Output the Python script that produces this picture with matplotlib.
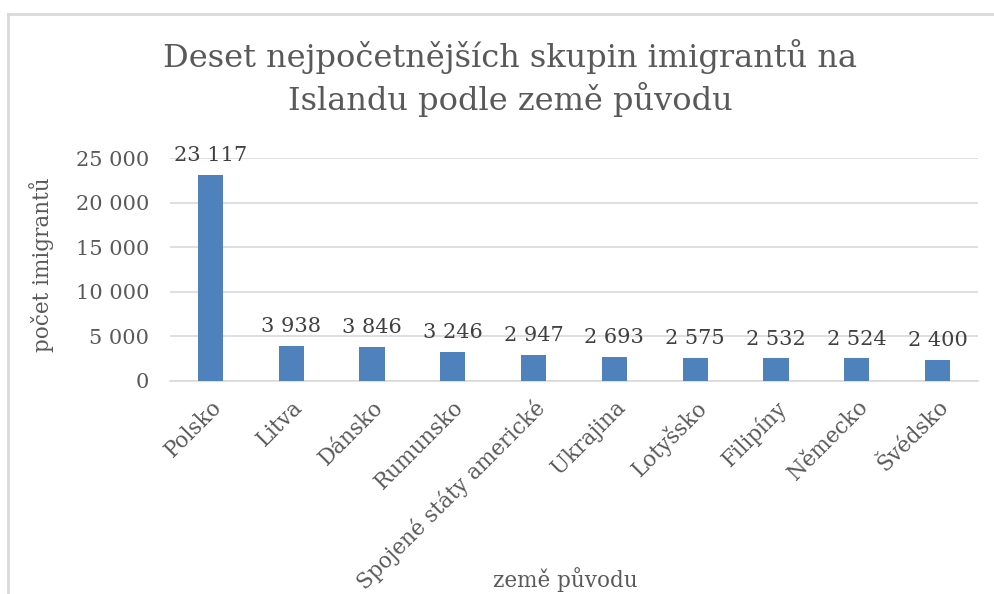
import matplotlib
matplotlib.use("Agg")
import matplotlib.pyplot as plt
from matplotlib.lines import Line2D

# data
countries = ["Polsko", "Litva", "Dánsko", "Rumunsko", "Spojené státy americké",
             "Ukrajina", "Lotyšsko", "Filipíny", "Německo", "Švédsko"]
counts = [23117, 3938, 3846, 3246, 2947, 2693, 2575, 2532, 2524, 2400]
yticks = [0, 5000, 10000, 15000, 20000, 25000]

def fmt(v):
    return "{:,}".format(v).replace(",", " ")

plt.rcParams["font.family"] = ["DejaVu Serif"]
txt = "#595959"

fig = plt.figure(figsize=(9.94, 5.94), dpi=100)
ax = fig.add_axes([170 / 994, 1 - 381 / 594, 808 / 994, 223 / 594])

x = range(len(countries))
bars = ax.bar(x, counts, width=0.31, color="#4f81bd", zorder=3)
for xi, v in zip(x, counts):
    ax.text(xi, v + 1100, fmt(v), ha="center", va="bottom", fontsize=15, color="#404040")

ax.set_xlim(-0.5, len(countries) - 0.5)
ax.set_ylim(0, 25000)
ax.set_yticks(yticks)
ax.set_yticklabels([fmt(t) for t in yticks], fontsize=15, color=txt)
ax.yaxis.grid(True, color="#d9d9d9", linewidth=1.2, zorder=0)
ax.set_xticks(list(x))
ax.set_xticklabels(countries, rotation=45, ha="right", va="top", rotation_mode="anchor",
                   fontsize=15.5, color=txt)
ax.tick_params(axis="both", length=0)
ax.tick_params(axis="x", pad=11)
ax.tick_params(axis="y", pad=15)
for s in ["top", "right", "left"]:
    ax.spines[s].set_visible(False)
ax.spines["bottom"].set_color("#d9d9d9")
ax.spines["bottom"].set_linewidth(1.2)

fig.text(510 / 994, 1 - 78 / 594, "Deset nejpočetnějších skupin imigrantů na\nIslandu podle země původu",
         ha="center", va="center", fontsize=23, color=txt, linespacing=1.3)
fig.text(565 / 994, 1 - 580 / 594, "země původu", ha="center", va="center", fontsize=15.5, color=txt)
fig.text(42 / 994, 1 - 265 / 594, "počet imigrantů", ha="center", va="center", rotation=90,
         fontsize=15.5, color=txt)

# chart border
fig.add_artist(Line2D([8 / 994, 8 / 994], [0, 1 - 14 / 594], color="#d9d9d9", linewidth=2))
fig.add_artist(Line2D([8 / 994, 1], [1 - 14 / 594, 1 - 14 / 594], color="#d9d9d9", linewidth=2))

fig.savefig("out.png", dpi=100)
